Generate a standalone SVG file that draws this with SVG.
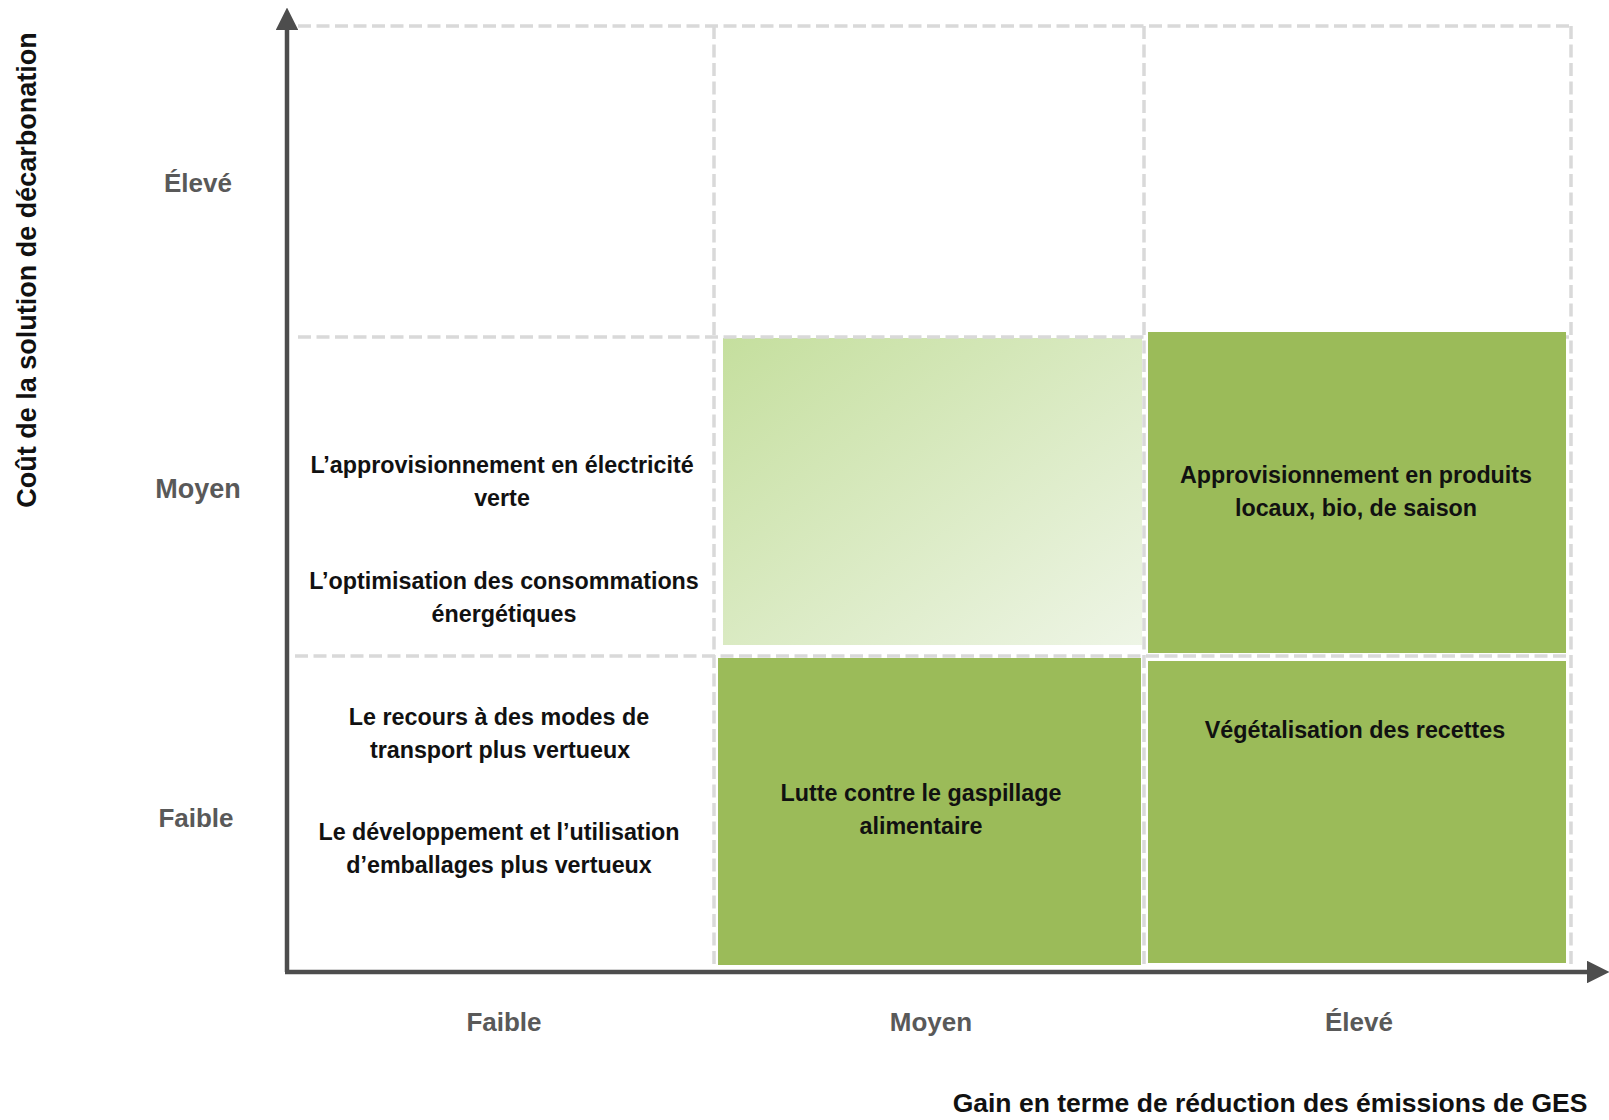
<svg xmlns="http://www.w3.org/2000/svg" width="1609" height="1120" viewBox="0 0 1609 1120">
<style>
.grid{stroke:#d9d9d9;stroke-width:3.5;stroke-dasharray:13 5.5;fill:none}
.axis{stroke:#4d4d4d;stroke-width:4.5;fill:none}
.dark{fill:#9bbb59}
.lvl{font-family:"Liberation Sans",Arial,sans-serif;font-weight:bold;font-size:26px;fill:#595959;text-anchor:middle}
.item{font-family:"Liberation Sans",Arial,sans-serif;font-weight:bold;font-size:23.3px;fill:#111;text-anchor:middle}
.title{font-family:"Liberation Sans",Arial,sans-serif;font-weight:bold;font-size:26.5px;fill:#111;text-anchor:middle}
</style>
<defs>
<linearGradient id="lightG" x1="0" y1="0" x2="1" y2="1">
<stop offset="0" stop-color="#c5df9e"/>
<stop offset="1" stop-color="#eef5e6"/>
</linearGradient>
<marker id="arr" viewBox="0 0 10 10" refX="0" refY="5" markerWidth="5" markerHeight="5" orient="auto" markerUnits="strokeWidth">
<path d="M0,0 L10,5 L0,10 Z" fill="#4d4d4d"/>
</marker>
</defs>
<rect width="1609" height="1120" fill="#ffffff"/>

<g id="cell-moyen-moyen"><rect x="723" y="338" width="419" height="307" fill="url(#lightG)"/></g>
<g id="cell-moyen-faible">
<rect class="dark" x="718" y="658" width="423" height="307"/>
<text class="item" x="921" y="801">Lutte contre le gaspillage</text>
<text class="item" x="921" y="834">alimentaire</text>
</g>
<g id="cell-eleve-faible">
<rect class="dark" x="1148" y="661" width="418" height="302"/>
<text class="item" x="1355" y="738">Végétalisation des recettes</text>
</g>

<g id="grid">
<line class="grid" x1="298" y1="26" x2="1571" y2="26"/>
<line class="grid" x1="298" y1="337" x2="1571" y2="337"/>
<line class="grid" x1="295" y1="656" x2="1571" y2="656"/>
<line class="grid" x1="714" y1="26" x2="714" y2="966"/>
<line class="grid" x1="1144" y1="26" x2="1144" y2="966"/>
<line class="grid" x1="1571" y1="26" x2="1571" y2="966"/>
</g>

<g id="cell-eleve-moyen">
<rect class="dark" x="1148" y="332" width="418" height="321"/>
<text class="item" x="1356" y="483">Approvisionnement en produits</text>
<text class="item" x="1356" y="516">locaux, bio, de saison</text>
</g>

<g id="cell-faible-moyen">
<text class="item" x="502" y="473">L’approvisionnement en électricité</text>
<text class="item" x="502" y="506">verte</text>
<text class="item" x="504" y="589">L’optimisation des consommations</text>
<text class="item" x="504" y="622">énergétiques</text>
</g>
<g id="cell-faible-faible">
<text class="item" x="499" y="725">Le recours à des modes de</text>
<text class="item" x="500" y="758">transport plus vertueux</text>
<text class="item" x="499" y="840">Le développement et l’utilisation</text>
<text class="item" x="499" y="873">d’emballages plus vertueux</text>
</g>

<g id="connectors">
<line class="axis" x1="287" y1="972" x2="287" y2="30" marker-end="url(#arr)"/>
<line class="axis" x1="285" y1="972" x2="1587" y2="972" marker-end="url(#arr)"/>
</g>

<g id="y-labels">
<text class="lvl" x="198" y="192">Élevé</text>
<text class="lvl" x="198" y="498" style="font-size:27px">Moyen</text>
<text class="lvl" x="196" y="827">Faible</text>
</g>
<g id="x-labels">
<text class="lvl" x="504" y="1031">Faible</text>
<text class="lvl" x="931" y="1031">Moyen</text>
<text class="lvl" x="1359" y="1031">Élevé</text>
</g>
<g id="titles">
<text class="title" transform="translate(36,270) rotate(-90)" style="font-size:27px">Coût de la solution de décarbonation</text>
<text class="title" x="1270" y="1112">Gain en terme de réduction des émissions de GES</text>
</g>
</svg>
